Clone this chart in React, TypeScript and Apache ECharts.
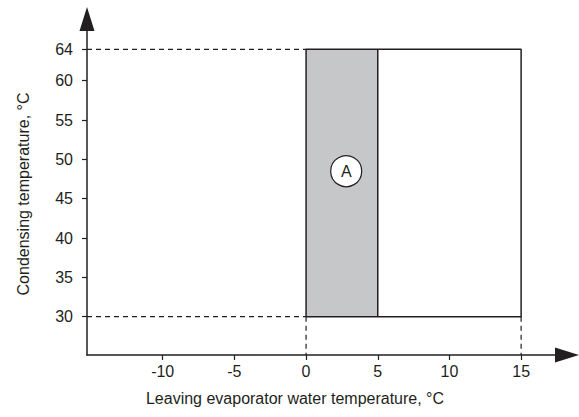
import React, { useEffect, useRef } from "react";
import * as echarts from "echarts";

const xTicks = [-10, -5, 0, 5, 10, 15];
const yTicks = [30, 35, 40, 45, 50, 55, 60, 64];
const xMin = -15.28;
const xMax = 18.2;
const yMin = 25.13;
const yMax = 67.85;
// operating envelope (outline)
const envelopeX = [0, 15, 15, 0, 0];
const envelopeY = [30, 30, 64, 64, 30];
// shaded zone A
const zoneAX = [0, 5];
const zoneAY = [30, 64];
// dashed guides
const guideTop = [[xMin, 64], [0, 64]];
const guideBottom = [[xMin, 30], [0, 30]];
const guideLeftDrop = [[0, 30], [0, yMin]];
const guideRightDrop = [[15, 30], [15, yMin]];
// label A
const labelA = [2.8, 48.5];

const INK = "#231f20";
const FONT = "Liberation Sans, Arial, Helvetica, sans-serif";

export default function App() {
  const ref = useRef<HTMLDivElement>(null);
  useEffect(() => {
    if (!ref.current) return;
    const chart = echarts.init(ref.current, null, { renderer: "svg" });
    const dashed = (data: number[][]) => ({
      type: "line",
      data,
      symbol: "none",
      silent: true,
      lineStyle: { color: INK, width: 1.2, type: [5, 4] },
      z: 1,
    });
    chart.setOption({
      animation: false,
      backgroundColor: "#ffffff",
      grid: { left: 87, right: 12, top: 19, bottom: 62 },
      xAxis: {
        type: "value",
        min: xMin,
        max: xMax,
        splitLine: { show: false },
        axisLine: {
          show: true,
          onZero: false,
          lineStyle: { color: INK, width: 1.5 },
          symbol: ["none", "triangle"],
          symbolSize: [15, 24],
        },
        axisTick: { show: true, customValues: xTicks, length: 5, lineStyle: { color: INK, width: 1.2 } },
        axisLabel: { customValues: xTicks, color: INK, fontSize: 16, fontFamily: FONT, margin: 8 },
        name: "Leaving evaporator water temperature, °C",
        nameLocation: "middle",
        nameGap: 35,
        nameTextStyle: { color: INK, fontSize: 16, fontFamily: FONT, padding: [0, 64, 0, 0] },
      },
      yAxis: {
        type: "value",
        min: yMin,
        max: yMax,
        splitLine: { show: false },
        axisLine: {
          show: true,
          onZero: false,
          lineStyle: { color: INK, width: 1.5 },
          symbol: ["none", "triangle"],
          symbolSize: [15, 24],
        },
        axisTick: { show: true, customValues: yTicks, length: 5, lineStyle: { color: INK, width: 1.2 } },
        axisLabel: { customValues: yTicks, color: INK, fontSize: 16, fontFamily: FONT, margin: 14 },
        name: "Condensing temperature, °C",
        nameLocation: "middle",
        nameGap: 56,
        nameTextStyle: { color: INK, fontSize: 16, fontFamily: FONT, padding: [0, 14, 0, 0] },
      },
      series: [
        {
          type: "line",
          data: envelopeX.map((x, i) => [x, envelopeY[i]]),
          symbol: "none",
          silent: true,
          lineStyle: { color: INK, width: 1.5 },
          z: 3,
          markArea: {
            silent: true,
            itemStyle: { color: "#c6c7c8" },
            data: [[{ coord: [zoneAX[0], zoneAY[0]] }, { coord: [zoneAX[1], zoneAY[1]] }]],
          },
        },
        {
          type: "line",
          data: [[zoneAX[1], zoneAY[0]], [zoneAX[1], zoneAY[1]]],
          symbol: "none",
          silent: true,
          lineStyle: { color: INK, width: 1.5 },
          z: 3,
        },
        dashed(guideTop),
        dashed(guideBottom),
        dashed(guideLeftDrop),
        dashed(guideRightDrop),
        {
          type: "scatter",
          data: [labelA],
          symbol: "circle",
          symbolSize: 31,
          silent: true,
          z: 5,
          itemStyle: { color: "#ffffff", opacity: 1, borderColor: INK, borderWidth: 1.2 },
          label: {
            show: true,
            position: "inside",
            formatter: "A",
            color: INK,
            fontSize: 16,
            fontFamily: FONT,
          },
        },
      ],
    });
    return () => chart.dispose();
  }, []);
  return (
    <div
      ref={ref}
      style={{ position: "absolute", left: 0, top: 0, width: 579, height: 417, background: "#fff" }}
    />
  );
}
